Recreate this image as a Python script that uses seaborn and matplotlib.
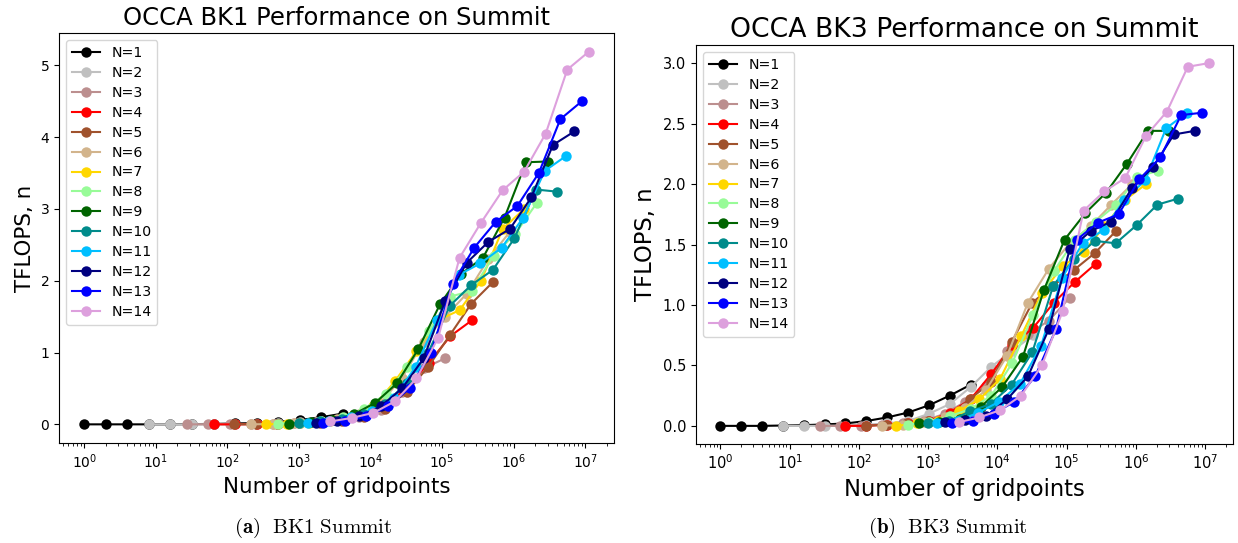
import matplotlib
matplotlib.use("Agg")
import matplotlib.pyplot as plt
import numpy as np
import pandas as pd
import seaborn as sns

# ---------------- data ----------------
ELEMENTS = [1, 2, 4, 8, 16, 32, 64, 128, 256, 512, 1024, 2048, 4096]
ORDERS = list(range(1, 15))
COLORS = ["black", "silver", "rosybrown", "red", "sienna", "tan", "gold",
          "palegreen", "darkgreen", "darkcyan", "deepskyblue", "navy",
          "blue", "plum"]
XTICKS = [1, 10, 100, 1000, 10000, 100000, 1000000, 10000000]

# BK1 TFLOPS per polynomial order N (one value per element count)
bk1_n1 = [0, 0, 0, 0, 0, 0.003, 0.006, 0.012, 0.02, 0.035, 0.06, 0.1, 0.15]
bk1_n2 = [0, 0, 0, 0, 0.003, 0.008, 0.015, 0.03, 0.05, 0.09, 0.16, 0.3, 0.45]
bk1_n3 = [0, 0, 0, 0.003, 0.007, 0.015, 0.03, 0.06, 0.1, 0.2, 0.45, 0.78, 0.92]
bk1_n4 = [0, 0, 0.003, 0.007, 0.015, 0.03, 0.06, 0.12, 0.25, 0.52, 0.86, 1.23, 1.45]
bk1_n5 = [0, 0.003, 0.006, 0.012, 0.025, 0.05, 0.1, 0.22, 0.45, 0.8, 1.24, 1.68, 1.98]
bk1_n6 = [0, 0.005, 0.015, 0.03, 0.07, 0.15, 0.3, 0.65, 1.15, 1.5, 1.82, 2.3, 2.68]
bk1_n7 = [0, 0.01, 0.02, 0.05, 0.12, 0.25, 0.6, 1.02, 1.45, 1.59, 2.0, 2.72, 3.0]
bk1_n8 = [0.01, 0.02, 0.05, 0.1, 0.22, 0.42, 0.8, 1.3, 1.78, 1.86, 2.35, 2.65, 3.08]
bk1_n9 = [0.01, 0.03, 0.06, 0.14, 0.3, 0.57, 1.05, 1.67, 2.1, 2.32, 2.88, 3.65, 3.66]
bk1_n10 = [0.02, 0.04, 0.08, 0.15, 0.28, 0.58, 1.0, 1.65, 1.94, 2.15, 2.59, 3.27, 3.24]
bk1_n11 = [0.02, 0.05, 0.1, 0.19, 0.37, 0.8, 1.45, 2.08, 2.24, 2.46, 2.88, 3.53, 3.74]
bk1_n12 = [0.02, 0.05, 0.11, 0.25, 0.5, 0.92, 1.72, 2.25, 2.54, 2.72, 3.16, 3.89, 4.08]
bk1_n13 = [0.02, 0.05, 0.11, 0.25, 0.5, 1.0, 1.96, 2.46, 2.82, 3.04, 3.5, 4.25, 4.5]
bk1_n14 = [0.04, 0.09, 0.16, 0.32, 0.64, 1.2, 2.32, 2.81, 3.26, 3.52, 4.05, 4.94, 5.19]

# BK3 TFLOPS per polynomial order N
bk3_n1 = [0, 0, 0, 0.003, 0.006, 0.012, 0.02, 0.04, 0.07, 0.11, 0.17, 0.25, 0.34]
bk3_n2 = [0, 0, 0, 0.003, 0.01, 0.02, 0.04, 0.1, 0.18, 0.32, 0.49, 0.62, 0.75]
bk3_n3 = [0, 0, 0.003, 0.01, 0.02, 0.04, 0.1, 0.2, 0.33, 0.62, 0.76, 0.87, 1.06]
bk3_n4 = [0, 0, 0.01, 0.02, 0.04, 0.11, 0.22, 0.43, 0.67, 0.81, 1.02, 1.19, 1.34]
bk3_n5 = [0, 0.01, 0.02, 0.04, 0.08, 0.22, 0.36, 0.69, 1.02, 1.16, 1.29, 1.43, 1.61]
bk3_n6 = [0, 0.01, 0.03, 0.07, 0.15, 0.3, 0.58, 1.02, 1.3, 1.51, 1.65, 1.83, 2.0]
bk3_n7 = [0, 0.02, 0.04, 0.12, 0.22, 0.39, 0.74, 1.1, 1.32, 1.44, 1.65, 1.87, 2.0]
bk3_n8 = [0.01, 0.03, 0.08, 0.14, 0.25, 0.52, 0.92, 1.28, 1.54, 1.69, 1.83, 2.06, 2.11]
bk3_n9 = [0.02, 0.03, 0.06, 0.16, 0.32, 0.57, 1.12, 1.54, 1.76, 1.93, 2.17, 2.44, 2.44]
bk3_n10 = [0.02, 0.04, 0.12, 0.18, 0.34, 0.61, 1.16, 1.38, 1.53, 1.51, 1.66, 1.83, 1.88]
bk3_n11 = [0.02, 0.04, 0.11, 0.2, 0.35, 0.66, 1.22, 1.51, 1.62, 1.87, 2.03, 2.46, 2.59]
bk3_n12 = [0.03, 0.05, 0.08, 0.22, 0.41, 0.8, 1.46, 1.61, 1.69, 1.97, 2.14, 2.41, 2.44]
bk3_n13 = [0.02, 0.04, 0.1, 0.2, 0.41, 0.8, 1.54, 1.68, 1.75, 2.04, 2.22, 2.57, 2.59]
bk3_n14 = [0.03, 0.07, 0.13, 0.25, 0.5, 0.95, 1.78, 1.94, 2.05, 2.4, 2.6, 2.97, 3.0]

BK1 = [bk1_n1, bk1_n2, bk1_n3, bk1_n4, bk1_n5, bk1_n6, bk1_n7,
       bk1_n8, bk1_n9, bk1_n10, bk1_n11, bk1_n12, bk1_n13, bk1_n14]
BK3 = [bk3_n1, bk3_n2, bk3_n3, bk3_n4, bk3_n5, bk3_n6, bk3_n7,
       bk3_n8, bk3_n9, bk3_n10, bk3_n11, bk3_n12, bk3_n13, bk3_n14]


def draw(ax, series, title, fs):
    ax.set_xscale("log")
    for n, vals, c in zip(ORDERS, series, COLORS):
        df = pd.DataFrame({"gridpoints": [e * n ** 3 for e in ELEMENTS],
                           "tflops": vals})
        sns.lineplot(data=df, x="gridpoints", y="tflops", color=c,
                     marker="o", markersize=7.5, markeredgewidth=0,
                     linewidth=1.5, label=f"N={n}", estimator=None,
                     errorbar=None, ax=ax)
    ax.set_xticks(XTICKS)
    ax.set_title(title, fontsize=fs["title"])
    ax.set_xlabel("Number of gridpoints", fontsize=fs["label"])
    ax.set_ylabel("TFLOPS, n", fontsize=fs["label"])
    ax.tick_params(axis="both", which="major", labelsize=fs["tick"])
    ax.legend(loc="upper left", fontsize=10.2, labelspacing=0.42)


fig = plt.figure(figsize=(12.38, 5.43), dpi=100)
ax1 = fig.add_axes([0.0477, 0.1842, 0.4483, 0.755])
ax2 = fig.add_axes([0.5622, 0.1823, 0.4338, 0.7348])

draw(ax1, BK1, "OCCA BK1 Performance on Summit",
     {"title": 17.5, "label": 15.4, "tick": 10})
draw(ax2, BK3, "OCCA BK3 Performance on Summit",
     {"title": 19.2, "label": 16.3, "tick": 10.5})

fig.text(0.253, 0.028, r"$\mathbf{(a)}\ \ \mathrm{BK1\ Summit}$",
         ha="center", va="center", fontsize=15, math_fontfamily="cm")
fig.text(0.766, 0.028, r"$\mathbf{(b)}\ \ \mathrm{BK3\ Summit}$",
         ha="center", va="center", fontsize=15, math_fontfamily="cm")

fig.savefig("out.png", dpi=100)
